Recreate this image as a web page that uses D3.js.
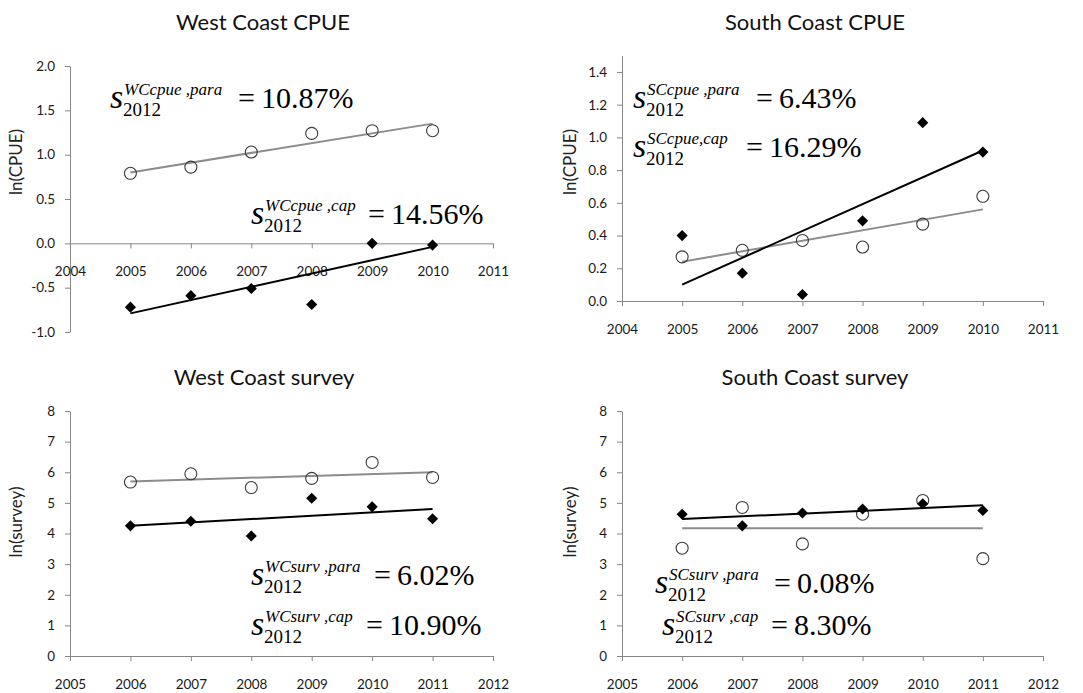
<!DOCTYPE html>
<html>
<head>
<meta charset="utf-8">
<script src="https://cdn.jsdelivr.net/npm/d3@7"></script>
<style>
  body { margin: 0; background: #fff; }
</style>
</head>
<body>
<div id="container"></div>
<script>
// ---- data ----
const cpueYears = [2005, 2006, 2007, 2008, 2009, 2010];
const surveyYears = [2006, 2007, 2008, 2009, 2010, 2011];

const wcCpuePara = [0.79, 0.86, 1.03, 1.24, 1.27, 1.27];
const wcCpueCap = [-0.72, -0.59, -0.51, -0.69, 0.00, -0.02];
const wcCpueParaTrend = [0.80, 1.35];
const wcCpueCapTrend = [-0.79, -0.04];

const scCpuePara = [0.27, 0.31, 0.37, 0.33, 0.47, 0.64];
const scCpueCap = [0.40, 0.17, 0.04, 0.49, 1.09, 0.91];
const scCpueParaTrend = [0.24, 0.56];
const scCpueCapTrend = [0.10, 0.92];

const wcSurvPara = [5.68, 5.95, 5.50, 5.80, 6.32, 5.83];
const wcSurvCap = [4.25, 4.40, 3.92, 5.15, 4.87, 4.48];
const wcSurvParaTrend = [5.70, 6.00];
const wcSurvCapTrend = [4.25, 4.80];

const scSurvPara = [3.52, 4.85, 3.66, 4.63, 5.08, 3.18];
const scSurvCap = [4.63, 4.25, 4.67, 4.80, 4.97, 4.75];
const scSurvParaTrend = [4.17, 4.17];
const scSurvCapTrend = [4.47, 4.92];

const cpueXTicks = [2004, 2005, 2006, 2007, 2008, 2009, 2010, 2011];
const surveyXTicks = [2005, 2006, 2007, 2008, 2009, 2010, 2011, 2012];
const wcCpueYTicks = [-1, -0.5, 0, 0.5, 1, 1.5, 2];
const scCpueYTicks = [0, 0.2, 0.4, 0.6, 0.8, 1.0, 1.2, 1.4];
const surveyYTicks = [0, 1, 2, 3, 4, 5, 6, 7, 8];

const titles = ['West Coast CPUE', 'South Coast CPUE', 'West Coast survey', 'South Coast survey'];
const yLabels = ['ln(CPUE)', 'ln(CPUE)', 'ln(survey)', 'ln(survey)'];
const sTags = [
    ['WCcpue ,para', 'WCcpue ,cap'],
    ['SCcpue ,para', 'SCcpue,cap'],
    ['WCsurv ,para', 'WCsurv ,cap'],
    ['SCsurv ,para', 'SCsurv ,cap']
];
const sValues = [
    ['10.87%', '14.56%'],
    ['6.43%', '16.29%'],
    ['6.02%', '10.90%'],
    ['0.08%', '8.30%']
];

const W = 1083, H = 693;
const axisColor = '#868686';
const labelFont = 'Lato, "Open Sans", sans-serif';
const mathFont = '"Liberation Serif", "DejaVu Serif", serif';

const svg = d3.select('#container')
    .append('svg')
    .attr('width', W)
    .attr('height', H);

function drawPanel(p) {
    const x = d3.scaleLinear().domain(p.xDomain).range([p.left, p.right]);
    const y = d3.scaleLinear().domain(p.yDomain).range([p.bottom, p.top]);
    const g = svg.append('g');

    g.append('text')
        .attr('x', p.titleX)
        .attr('y', p.titleY)
        .attr('text-anchor', 'middle')
        .attr('font-family', labelFont)
        .attr('font-size', 22)
        .attr('fill', '#111')
        .text(p.title);

    g.append('text')
        .attr('transform', `translate(${p.yLabelX},${p.yLabelY}) rotate(-90)`)
        .attr('text-anchor', 'middle')
        .attr('dominant-baseline', 'middle')
        .attr('font-family', labelFont)
        .attr('font-size', 17)
        .attr('fill', '#222')
        .text(p.yLabel);

    const yAxis = g.append('g')
        .attr('transform', `translate(${p.left},0)`)
        .call(d3.axisLeft(y)
            .tickValues(p.yTicks)
            .tickFormat(p.yFormat)
            .tickSize(5)
            .tickSizeOuter(0)
            .tickPadding(10));

    const xAxis = g.append('g')
        .attr('transform', `translate(0,${y(0)})`)
        .call(d3.axisBottom(x)
            .tickValues(p.xTicks)
            .tickFormat(d3.format('d'))
            .tickSize(5)
            .tickSizeOuter(0)
            .tickPadding(18));

    [yAxis, xAxis].forEach(a => {
        a.select('.domain').attr('stroke', axisColor);
        a.selectAll('.tick line').attr('stroke', axisColor);
        a.selectAll('.tick text')
            .attr('font-family', labelFont)
            .attr('font-size', 13.5)
            .attr('fill', '#1a1a1a');
    });

    const first = p.years[0], last = p.years[p.years.length - 1];

    // para: grey trend + open circles
    g.append('line')
        .attr('x1', x(first)).attr('y1', y(p.paraTrend[0]))
        .attr('x2', x(last)).attr('y2', y(p.paraTrend[1]))
        .attr('stroke', '#8c8c8c')
        .attr('stroke-width', 2);

    g.append('g')
        .selectAll('circle')
        .data(p.para)
        .enter()
        .append('circle')
        .attr('cx', (d, i) => x(p.years[i]))
        .attr('cy', d => y(d))
        .attr('r', 6)
        .attr('fill', 'none')
        .attr('stroke', '#3a3a3a')
        .attr('stroke-width', 1.1);

    // cap: black trend + filled diamonds
    g.append('line')
        .attr('x1', x(first)).attr('y1', y(p.capTrend[0]))
        .attr('x2', x(last)).attr('y2', y(p.capTrend[1]))
        .attr('stroke', '#000')
        .attr('stroke-width', 2);

    g.append('g')
        .selectAll('path')
        .data(p.cap)
        .enter()
        .append('path')
        .attr('d', d3.symbol(d3.symbolSquare, 62))
        .attr('transform', (d, i) => `translate(${x(p.years[i])},${y(d)}) rotate(45)`)
        .attr('fill', '#000');

    // s_2012 annotations
    p.notes.forEach((n, k) => {
        const t = g.append('g').attr('fill', '#000');
        t.append('text')
            .attr('x', n.sx).attr('y', n.y)
            .attr('font-family', mathFont)
            .attr('font-size', 34)
            .attr('font-style', 'italic')
            .text('s');
        t.append('text')
            .attr('x', n.sx + 14).attr('y', n.y - 13)
            .attr('font-family', mathFont)
            .attr('font-size', 17)
            .attr('font-style', 'italic')
            .text(p.tags[k]);
        t.append('text')
            .attr('x', n.sx + 13).attr('y', n.y + 8)
            .attr('font-family', mathFont)
            .attr('font-size', 19)
            .text('2012');
        t.append('text')
            .attr('x', n.ex).attr('y', n.y)
            .attr('font-family', mathFont)
            .attr('font-size', 30)
            .text('=\u2009' + p.values[k]);
    });
}

const fmt1 = d => d.toFixed(1);
const fmt0 = d => d.toFixed(0);

drawPanel({
    title: titles[0], titleX: 263, titleY: 30,
    yLabel: yLabels[0], yLabelX: 18, yLabelY: 162,
    left: 70, right: 493, top: 66, bottom: 332,
    xDomain: [2004, 2011], yDomain: [-1, 2],
    xTicks: cpueXTicks, yTicks: wcCpueYTicks, yFormat: fmt1,
    years: cpueYears, para: wcCpuePara, cap: wcCpueCap,
    paraTrend: wcCpueParaTrend, capTrend: wcCpueCapTrend,
    tags: sTags[0], values: sValues[0],
    notes: [{ sx: 110, ex: 238, y: 108 }, { sx: 251, ex: 368, y: 224 }]
});

drawPanel({
    title: titles[1], titleX: 815, titleY: 30,
    yLabel: yLabels[1], yLabelX: 572, yLabelY: 162,
    left: 622, right: 1043, top: 55.6, bottom: 301,
    xDomain: [2004, 2011], yDomain: [0, 1.5],
    xTicks: cpueXTicks, yTicks: scCpueYTicks, yFormat: fmt1,
    years: cpueYears, para: scCpuePara, cap: scCpueCap,
    paraTrend: scCpueParaTrend, capTrend: scCpueCapTrend,
    tags: sTags[1], values: sValues[1],
    notes: [{ sx: 633, ex: 756, y: 108 }, { sx: 633, ex: 746, y: 157 }]
});

drawPanel({
    title: titles[2], titleX: 264, titleY: 385,
    yLabel: yLabels[2], yLabelX: 18, yLabelY: 522,
    left: 70, right: 493, top: 411, bottom: 656,
    xDomain: [2005, 2012], yDomain: [0, 8],
    xTicks: surveyXTicks, yTicks: surveyYTicks, yFormat: fmt0,
    years: surveyYears, para: wcSurvPara, cap: wcSurvCap,
    paraTrend: wcSurvParaTrend, capTrend: wcSurvCapTrend,
    tags: sTags[2], values: sValues[2],
    notes: [{ sx: 251, ex: 374, y: 585 }, { sx: 251, ex: 366, y: 635 }]
});

drawPanel({
    title: titles[3], titleX: 815, titleY: 385,
    yLabel: yLabels[3], yLabelX: 572, yLabelY: 522,
    left: 622, right: 1043, top: 411, bottom: 656,
    xDomain: [2005, 2012], yDomain: [0, 8],
    xTicks: surveyXTicks, yTicks: surveyYTicks, yFormat: fmt0,
    years: surveyYears, para: scSurvPara, cap: scSurvCap,
    paraTrend: scSurvParaTrend, capTrend: scSurvCapTrend,
    tags: sTags[3], values: sValues[3],
    notes: [{ sx: 655, ex: 774, y: 593 }, { sx: 662, ex: 771, y: 635 }]
});
</script>
</body>
</html>
